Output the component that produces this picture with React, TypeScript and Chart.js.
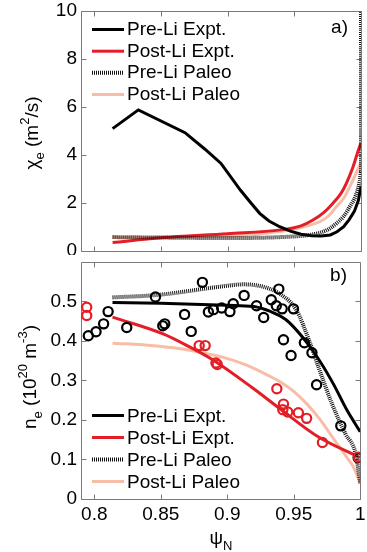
import React, { useEffect, useRef } from "react";
import { Chart, registerables } from "chart.js";

Chart.register(...registerables);

const FONT = "'Liberation Sans', Arial, Helvetica, sans-serif";
const FS = 19;
const RED = "#e41e26";
const SALMON = "#f7bda6";
const FRAME = "#7a7a7a";

// ---------- axis ticks ----------
const psiTicks = [0.8, 0.85, 0.9, 0.95, 1];
const chiTicks = [0, 2, 4, 6, 8, 10];
const neTicks = [0, 0.1, 0.2, 0.3, 0.4, 0.5];

// ---------- panel a) chi_e ----------
const chiPreExptX = [0.8137, 0.833, 0.868, 0.883, 0.895, 0.9095, 0.917, 0.924, 0.931, 0.939, 0.947, 0.955, 0.963, 0.97, 0.977, 0.982, 0.987, 0.991, 0.995, 0.998, 1.0];
const chiPreExptY = [5.1, 5.88, 4.93, 4.24, 3.65, 2.54, 2.03, 1.57, 1.25, 1.01, 0.83, 0.7, 0.64, 0.63, 0.67, 0.8, 1.01, 1.3, 1.65, 2.1, 2.7];

const chiPostExptX = [0.8137, 0.85, 0.9, 0.94, 0.955, 0.964, 0.972, 0.979, 0.985, 0.989, 0.994, 0.998, 1.0];
const chiPostExptY = [0.35, 0.55, 0.72, 0.88, 1.05, 1.29, 1.6, 1.99, 2.4, 2.82, 3.5, 4.2, 4.5];

const chiPrePaleoX = [0.8137, 0.85, 0.9, 0.94, 0.96, 0.969, 0.976, 0.9816, 0.987, 0.9916, 0.996, 0.999, 1.0, 1.0];
const chiPrePaleoY = [0.58, 0.56, 0.54, 0.58, 0.66, 0.76, 0.92, 1.15, 1.45, 1.85, 2.3, 2.9, 3.3, 12];

const chiPostPaleoX = [0.8137, 0.9, 0.94, 0.9518, 0.962, 0.969, 0.976, 0.9816, 0.987, 0.9916, 0.996, 1.0];
const chiPostPaleoY = [0.56, 0.62, 0.82, 0.94, 1.08, 1.22, 1.48, 1.85, 2.2, 2.68, 3.2, 3.7];

// ---------- panel b) n_e ----------
const nePreExptX = [0.8137, 0.85, 0.9, 0.92, 0.932, 0.944, 0.9567, 0.9692, 0.98, 0.99, 1.0];
const nePreExptY = [0.497, 0.495, 0.49, 0.487, 0.475, 0.454, 0.409, 0.351, 0.29, 0.225, 0.17];

const nePrePaleoX = [0.8137, 0.847, 0.8946, 0.912, 0.927, 0.939, 0.9518, 0.9617, 0.969, 0.979, 0.989, 0.9966, 1.0];
const nePrePaleoY = [0.51, 0.516, 0.537, 0.543, 0.537, 0.52, 0.479, 0.4, 0.33, 0.239, 0.164, 0.114, 0.04];

const nePostExptX = [0.8137, 0.8522, 0.872, 0.8896, 0.9194, 0.939, 0.969, 1.0];
const nePostExptY = [0.46, 0.417, 0.384, 0.351, 0.28, 0.23, 0.156, 0.105];

const nePostPaleoX = [0.8137, 0.84, 0.865, 0.88, 0.8983, 0.915, 0.93, 0.94, 0.95, 0.96, 0.97, 0.98, 0.99, 0.995, 1.0];
const nePostPaleoY = [0.394, 0.389, 0.38, 0.371, 0.357, 0.338, 0.314, 0.296, 0.272, 0.24, 0.2, 0.152, 0.105, 0.08, 0.04];

const nePreDataX = [0.7955, 0.8013, 0.807, 0.8104, 0.8244, 0.846, 0.8515, 0.853, 0.8679, 0.8729, 0.8813, 0.8858, 0.8896, 0.8958, 0.902, 0.9045, 0.9127, 0.922, 0.9274, 0.9331, 0.9388, 0.9369, 0.9413, 0.9498, 0.9423, 0.948, 0.958, 0.9637, 0.9672, 0.9854, 0.9985];
const nePreDataY = [0.413, 0.423, 0.443, 0.474, 0.434, 0.511, 0.438, 0.443, 0.467, 0.424, 0.548, 0.473, 0.479, 0.483, 0.474, 0.494, 0.515, 0.489, 0.459, 0.504, 0.531, 0.489, 0.481, 0.481, 0.403, 0.363, 0.395, 0.37, 0.289, 0.185, 0.104];

const nePostDataX = [0.7943, 0.7943, 0.8789, 0.8834, 0.8915, 0.8925, 0.9373, 0.9423, 0.9418, 0.9455, 0.9535, 0.9597, 0.9716, 0.9985];
const nePostDataY = [0.485, 0.464, 0.388, 0.388, 0.344, 0.34, 0.279, 0.24, 0.226, 0.22, 0.218, 0.204, 0.143, 0.106];

const legendLabels = ["Pre-Li Expt.", "Post-Li Expt.", "Pre-Li Paleo", "Post-Li Paleo"];

type Seg = { t: string; k?: "sub" | "sup" };

function pts(xs: number[], ys: number[]) {
  return xs.map((x, i) => ({ x, y: ys[i] }));
}

const lineStyles = [
  { color: "#000", width: 3, dash: [] as number[] },
  { color: RED, width: 3, dash: [] as number[] },
  { color: "#111", width: 4, dash: [1, 1] },
  { color: SALMON, width: 3, dash: [] as number[] },
];

function lineDs(label: string, xs: number[], ys: number[], s: number, order: number, smooth = true) {
  const st = lineStyles[s];
  return {
    label,
    data: pts(xs, ys),
    borderColor: st.color,
    borderWidth: st.width,
    borderDash: st.dash,
    pointRadius: 0,
    fill: false,
    tension: smooth ? 0.4 : 0,
    cubicInterpolationMode: smooth ? "monotone" : "default",
    order,
  };
}

function dotDs(label: string, xs: number[], ys: number[], color: string, order: number) {
  return {
    label,
    data: pts(xs, ys),
    showLine: false,
    borderColor: color,
    pointBorderColor: color,
    pointBackgroundColor: "rgba(0,0,0,0)",
    pointRadius: 4.6,
    pointBorderWidth: 2.2,
    pointStyle: "circle",
    order,
  };
}

function drawRich(ctx: CanvasRenderingContext2D, segs: Seg[], x: number, y: number, rotate: boolean) {
  ctx.save();
  ctx.translate(x, y);
  if (rotate) ctx.rotate(-Math.PI / 2);
  const small = Math.round(FS * 0.7);
  const widths = segs.map((s) => {
    ctx.font = `${s.k ? small : FS}px ${FONT}`;
    return ctx.measureText(s.t).width;
  });
  const total = widths.reduce((a, b) => a + b, 0);
  let cx = -total / 2;
  ctx.textAlign = "left";
  ctx.textBaseline = "alphabetic";
  ctx.fillStyle = "#000";
  segs.forEach((s, i) => {
    ctx.font = `${s.k ? small : FS}px ${FONT}`;
    const dy = s.k === "sub" ? FS * 0.3 : s.k === "sup" ? -FS * 0.45 : 0;
    ctx.fillText(s.t, cx, dy);
    cx += widths[i];
  });
  ctx.restore();
}

interface PanelCfg {
  yTicks: number[];
  legendBase: number[];
  legendLineOff: number;
  label: string;
  labelPos: [number, number];
  yTitle: Seg[];
  yTitlePos: [number, number];
  xTitle?: Seg[];
  xTitlePos?: [number, number];
}

function panelPlugin(cfg: PanelCfg) {
  return {
    id: "panelDeco",
    beforeDatasetsDraw(chart: any) {
      const ctx: CanvasRenderingContext2D = chart.ctx;
      const a = chart.chartArea;
      const xs = chart.scales.x;
      const ys = chart.scales.y;
      ctx.save();
      ctx.strokeStyle = FRAME;
      ctx.lineWidth = 1;
      ctx.setLineDash([]);
      const L = Math.round(a.left) + 0.5;
      const R = Math.round(a.right) + 0.5;
      const T = Math.round(a.top) + 0.5;
      const B = Math.round(a.bottom) + 0.5;
      ctx.beginPath();
      ctx.rect(L, T, R - L, B - T);
      const tl = 5;
      psiTicks.forEach((v) => {
        const px = Math.round(xs.getPixelForValue(v)) + 0.5;
        ctx.moveTo(px, T);
        ctx.lineTo(px, T + tl);
        ctx.moveTo(px, B);
        ctx.lineTo(px, B - tl);
      });
      cfg.yTicks.forEach((v) => {
        const py = Math.round(ys.getPixelForValue(v)) + 0.5;
        ctx.moveTo(L, py);
        ctx.lineTo(L + tl, py);
        ctx.moveTo(R, py);
        ctx.lineTo(R - tl, py);
      });
      ctx.stroke();
      ctx.restore();
    },
    afterDraw(chart: any) {
      const ctx: CanvasRenderingContext2D = chart.ctx;
      ctx.save();
      legendLabels.forEach((lab, i) => {
        const st = lineStyles[i];
        const base = cfg.legendBase[i];
        const ly = base - cfg.legendLineOff;
        ctx.beginPath();
        ctx.strokeStyle = st.color;
        ctx.lineWidth = st.width;
        ctx.setLineDash(st.dash);
        ctx.moveTo(92, ly);
        ctx.lineTo(124, ly);
        ctx.stroke();
        ctx.setLineDash([]);
        ctx.fillStyle = "#000";
        ctx.font = `${FS}px ${FONT}`;
        ctx.textAlign = "left";
        ctx.textBaseline = "alphabetic";
        ctx.fillText(lab, 127, base);
      });
      ctx.font = `${FS}px ${FONT}`;
      ctx.textAlign = "right";
      ctx.fillStyle = "#000";
      ctx.fillText(cfg.label, cfg.labelPos[0], cfg.labelPos[1]);
      ctx.restore();
      drawRich(ctx, cfg.yTitle, cfg.yTitlePos[0], cfg.yTitlePos[1], true);
      if (cfg.xTitle && cfg.xTitlePos) drawRich(ctx, cfg.xTitle, cfg.xTitlePos[0], cfg.xTitlePos[1], false);
    },
  };
}

function zeroPad(s: any) {
  s.paddingTop = 0;
  s.paddingBottom = 0;
  s.paddingLeft = 0;
  s.paddingRight = 0;
}

function makeTop(canvas: HTMLCanvasElement) {
  return new Chart(canvas, {
    type: "line",
    data: {
      datasets: [
        lineDs("Pre-Li Paleo", chiPrePaleoX, chiPrePaleoY, 2, 1),
        lineDs("Pre-Li Expt.", chiPreExptX, chiPreExptY, 0, 2, false),
        lineDs("Post-Li Expt.", chiPostExptX, chiPostExptY, 1, 3),
        lineDs("Post-Li Paleo", chiPostPaleoX, chiPostPaleoY, 3, 4),
      ] as any,
    },
    options: {
      animation: false,
      responsive: false,
      devicePixelRatio: 1,
      layout: { padding: { top: 11, right: 6, bottom: 4, left: 0 } },
      plugins: { legend: { display: false }, tooltip: { enabled: false } },
      scales: {
        x: { type: "linear", min: 0.79, max: 1, display: false },
        y: {
          type: "linear",
          min: 0,
          max: 10,
          grid: { display: false, drawTicks: false },
          border: { display: false },
          afterBuildTicks: (s: any) => {
            s.ticks = chiTicks.map((v) => ({ value: v }));
          },
          afterFit: (s: any) => {
            s.width = 81;
            zeroPad(s);
          },
          ticks: {
            padding: 4,
            color: "#000",
            font: { family: FONT, size: FS },
            callback: (v: any) => String(v),
          },
        },
      },
    } as any,
    plugins: [
      panelPlugin({
        yTicks: chiTicks,
        legendBase: [35, 56.7, 78.3, 100],
        legendLineOff: 5.5,
        label: "a)",
        labelPos: [348, 33],
        yTitle: [{ t: "χ" }, { t: "e", k: "sub" }, { t: " (m" }, { t: "2", k: "sup" }, { t: "/s)" }],
        yTitlePos: [38, 133],
      }),
    ],
  });
}

function makeBottom(canvas: HTMLCanvasElement) {
  return new Chart(canvas, {
    type: "line",
    data: {
      datasets: [
        dotDs("Post-Li data", nePostDataX, nePostDataY, RED, 0),
        dotDs("Pre-Li data", nePreDataX, nePreDataY, "#000", 1),
        lineDs("Pre-Li Paleo", nePrePaleoX, nePrePaleoY, 2, 2),
        lineDs("Pre-Li Expt.", nePreExptX, nePreExptY, 0, 3),
        lineDs("Post-Li Expt.", nePostExptX, nePostExptY, 1, 4),
        lineDs("Post-Li Paleo", nePostPaleoX, nePostPaleoY, 3, 5),
      ] as any,
    },
    options: {
      animation: false,
      responsive: false,
      devicePixelRatio: 1,
      layout: { padding: { top: 3, right: 6, bottom: 0, left: 0 } },
      plugins: { legend: { display: false }, tooltip: { enabled: false } },
      scales: {
        x: {
          type: "linear",
          min: 0.79,
          max: 1,
          grid: { display: false, drawTicks: false },
          border: { display: false },
          afterBuildTicks: (s: any) => {
            s.ticks = psiTicks.map((v) => ({ value: v }));
          },
          afterFit: (s: any) => {
            s.height = 53;
            zeroPad(s);
          },
          ticks: {
            padding: 4,
            maxRotation: 0,
            autoSkip: false,
            color: "#000",
            font: { family: FONT, size: FS },
            callback: (v: any) => String(Math.round(Number(v) * 100) / 100),
          },
        },
        y: {
          type: "linear",
          min: 0,
          max: 0.6,
          grid: { display: false, drawTicks: false },
          border: { display: false },
          afterBuildTicks: (s: any) => {
            s.ticks = neTicks.map((v) => ({ value: v }));
          },
          afterFit: (s: any) => {
            s.width = 81;
            zeroPad(s);
          },
          ticks: {
            padding: 4,
            color: "#000",
            font: { family: FONT, size: FS },
            callback: (v: any) => (Number(v) === 0 ? "0" : Number(v).toFixed(1)),
          },
        },
      },
    } as any,
    plugins: [
      panelPlugin({
        yTicks: neTicks,
        legendBase: [166.5, 188.5, 210.5, 232.5],
        legendLineOff: 6,
        label: "b)",
        labelPos: [347, 26],
        yTitle: [
          { t: "n" },
          { t: "e", k: "sub" },
          { t: " (10" },
          { t: "20", k: "sup" },
          { t: " m" },
          { t: "-3", k: "sup" },
          { t: ")" },
        ],
        yTitlePos: [36, 122],
        xTitle: [{ t: "ψ" }, { t: "N", k: "sub" }],
        xTitlePos: [221, 289],
      }),
    ],
  });
}

export default function App() {
  const topRef = useRef<HTMLCanvasElement>(null);
  const botRef = useRef<HTMLCanvasElement>(null);

  useEffect(() => {
    const c1 = makeTop(topRef.current!);
    const c2 = makeBottom(botRef.current!);
    return () => {
      c1.destroy();
      c2.destroy();
    };
  }, []);

  return (
    <div style={{ position: "fixed", left: 0, top: 0, width: 367, height: 552, background: "#fff" }}>
      <canvas
        ref={topRef}
        width={367}
        height={255}
        style={{ position: "absolute", left: 0, top: 0, width: 367, height: 255 }}
      />
      <canvas
        ref={botRef}
        width={367}
        height={297}
        style={{ position: "absolute", left: 0, top: 255, width: 367, height: 297 }}
      />
    </div>
  );
}
